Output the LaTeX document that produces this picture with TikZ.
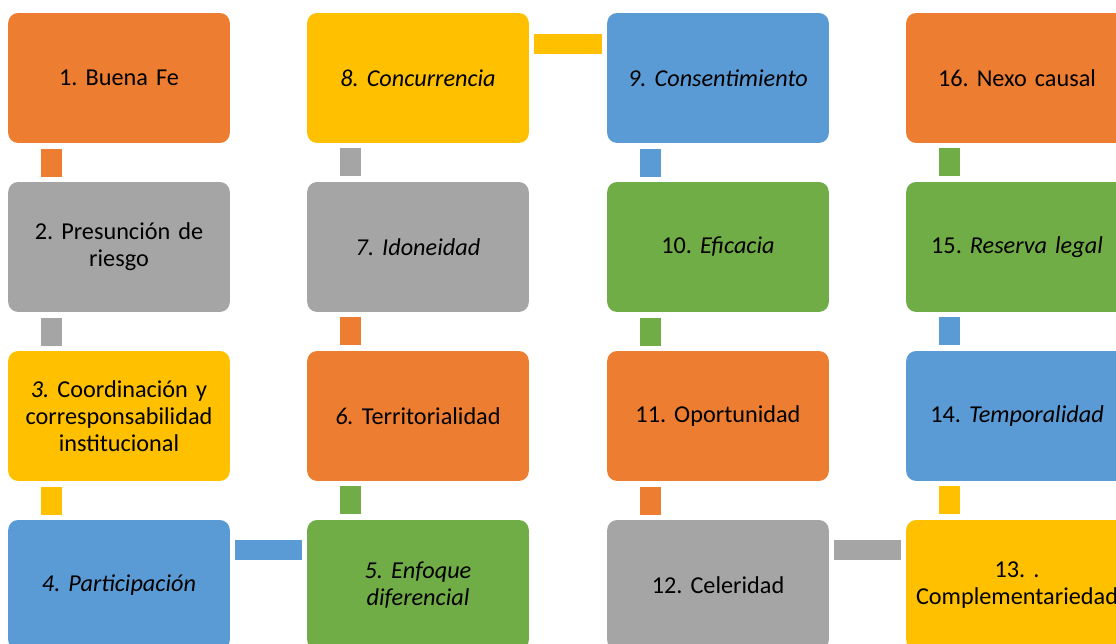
\documentclass[tikz,border=0pt]{standalone}
\usepackage{fontspec}
\setmainfont{Carlito}
\usepackage{xcolor}
\usepackage{tikz}
\usetikzlibrary{positioning}

\definecolor{naranja}{HTML}{ED7D31}
\definecolor{gris}{HTML}{A5A5A5}
\definecolor{amarillo}{HTML}{FFC000}
\definecolor{azul}{HTML}{5B9BD5}
\definecolor{verde}{HTML}{70AD47}

\begin{document}
\frenchspacing
\begin{tikzpicture}[x=0.02cm,y=-0.02cm,
    caja/.style={rectangle, rounded corners=0.2cm, minimum width=4.4cm,
        minimum height=2.6cm, text width=4.2cm, align=center,
        font=\fontsize{13.8}{15.5}\selectfont\frenchspacing, fill=#1},
    enlace/.style={line width=0.42cm, draw=#1, shorten <=0.12cm, shorten >=0.1cm},
    enlaceh/.style={line width=0.4cm, draw=#1, shorten <=0.1cm, shorten >=0.1cm}]

            % Frame
            \useasboundingbox (0,0) rectangle (1116,644);
            \clip (0,0) rectangle (1116,644);

            % Coordinates
            \coordinate(P1) at (119,78);
            \coordinate(P2) at (119,247);
            \coordinate(P3) at (119,416);
            \coordinate(P4) at (119,585);
            \coordinate(P5) at (418,585);
            \coordinate(P6) at (418,416);
            \coordinate(P7) at (418,247);
            \coordinate(P8) at (418,78);
            \coordinate(P9) at (718,78);
            \coordinate(P10) at (718,247);
            \coordinate(P11) at (718,416);
            \coordinate(P12) at (718,585);
            \coordinate(P13) at (1017,585);
            \coordinate(P14) at (1017,416);
            \coordinate(P15) at (1017,247);
            \coordinate(P16) at (1017,78);


            % Boxes
            \node[caja=naranja] (b1) at (P1) {1. Buena Fe};
            \node[caja=gris] (b2) at (P2) {2. Presunción de\\ riesgo};
            \node[caja=amarillo] (b3) at (P3) {\textit{3.} Coordinación y\\ corresponsabilidad\\ institucional};
            \node[caja=azul] (b4) at (P4) {\textit{4. Participación}};
            \node[caja=verde] (b5) at (P5) {\textit{5. Enfoque\\ diferencial}};
            \node[caja=naranja] (b6) at (P6) {\textit{6.} Territorialidad};
            \node[caja=gris] (b7) at (P7) {\textit{7. Idoneidad}};
            \node[caja=amarillo] (b8) at (P8) {\textit{8. Concurrencia}};
            \node[caja=azul] (b9) at (P9) {\textit{9. Consentimiento}};
            \node[caja=verde] (b10) at (P10) {10. \textit{Eficacia}};
            \node[caja=naranja] (b11) at (P11) {11. Oportunidad};
            \node[caja=gris] (b12) at (P12) {12. Celeridad};
            \node[caja=amarillo] (b13) at (P13) {13. .\\ Complementariedad};
            \node[caja=azul] (b14) at (P14) {14. \textit{Temporalidad}};
            \node[caja=verde] (b15) at (P15) {15. \textit{Reserva legal}};
            \node[caja=naranja] (b16) at (P16) {16. Nexo causal};


            % Links down
            \draw[enlace=naranja] ([xshift=0.87cm]b1.south west) -- ([xshift=0.87cm]b2.north west);
            \draw[enlace=gris] ([xshift=0.87cm]b2.south west) -- ([xshift=0.87cm]b3.north west);
            \draw[enlace=amarillo] ([xshift=0.87cm]b3.south west) -- ([xshift=0.87cm]b4.north west);
            \draw[enlace=azul] ([xshift=0.87cm]b9.south west) -- ([xshift=0.87cm]b10.north west);
            \draw[enlace=verde] ([xshift=0.87cm]b10.south west) -- ([xshift=0.87cm]b11.north west);
            \draw[enlace=naranja] ([xshift=0.87cm]b11.south west) -- ([xshift=0.87cm]b12.north west);

            % Links up
            \draw[enlace=verde] ([xshift=0.87cm]b5.north west) -- ([xshift=0.87cm]b6.south west);
            \draw[enlace=naranja] ([xshift=0.87cm]b6.north west) -- ([xshift=0.87cm]b7.south west);
            \draw[enlace=gris] ([xshift=0.87cm]b7.north west) -- ([xshift=0.87cm]b8.south west);
            \draw[enlace=amarillo] ([xshift=0.87cm]b13.north west) -- ([xshift=0.87cm]b14.south west);
            \draw[enlace=azul] ([xshift=0.87cm]b14.north west) -- ([xshift=0.87cm]b15.south west);
            \draw[enlace=verde] ([xshift=0.87cm]b15.north west) -- ([xshift=0.87cm]b16.south west);

            % Links across
            \draw[enlaceh=azul] ([yshift=-0.6cm]b4.north east) -- ([yshift=-0.6cm]b5.north west);
            \draw[enlaceh=amarillo] ([yshift=-0.62cm]b8.north east) -- ([yshift=-0.62cm]b9.north west);
            \draw[enlaceh=gris] ([yshift=-0.6cm]b12.north east) -- ([yshift=-0.6cm]b13.north west);

\end{tikzpicture}
\end{document}
